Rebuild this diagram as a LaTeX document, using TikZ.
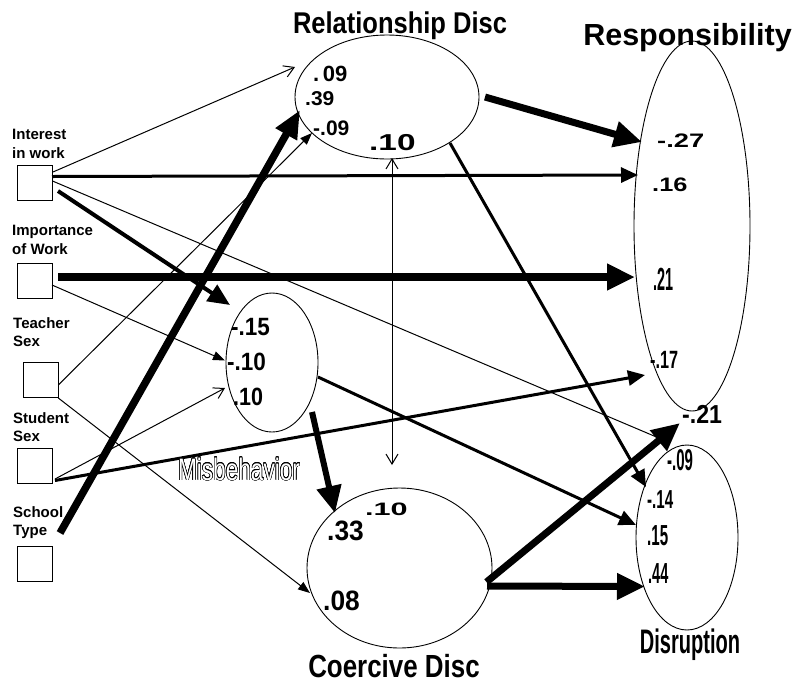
\documentclass[tikz,border=0pt]{standalone}
\usepackage{fontspec}
\setmainfont{Liberation Sans}
\usepackage{graphicx}
\usepackage{contour}
\contourlength{0.7pt}
\usetikzlibrary{arrows.meta,shapes.geometric,calc}
\newcommand{\lbl}[3]{\fontsize{#1}{#1}\selectfont\scalebox{#2}[1]{#3}}
\begin{document}
\begin{tikzpicture}[x=1pt,y=-1pt,
  box/.style={draw, line width=1pt, minimum size=35pt, inner sep=0pt, outer sep=0pt},
  ell/.style={draw, ellipse, line width=0.9pt, inner sep=0pt, outer sep=0pt},
  lab/.style={anchor=north west, inner sep=0pt, align=left, font=\fontsize{15}{18.5}\selectfont\bfseries},
  num/.style={anchor=base west, inner sep=0pt, font=\bfseries},
  ttl/.style={anchor=base, inner sep=0pt, font=\bfseries},
  thinln/.style={line width=1pt},
  medln/.style={line width=3pt},
  thkln/.style={line width=4pt},
  vthk/.style={line width=7.5pt},
  openhd/.style={-{Straight Barb[length=10pt,width=12pt]}},
  dblhd/.style={{Straight Barb[length=10pt,width=12pt]}-{Straight Barb[length=10pt,width=12pt]}},
  smallhd/.style={-{Triangle[length=12pt,width=9pt]}},
  medhd/.style={-{Triangle[length=17pt,width=15pt]}},
  midhd/.style={-{Triangle[length=22pt,width=19pt]}},
  bighd/.style={-{Triangle[length=28pt,width=25pt]}}
]
\fill[white] (0,0) rectangle (797,686);
\useasboundingbox (0,0) rectangle (797,686);

% boxes
\node[box] (bInt) at (34.5,183) {};
\node[box] (bImp) at (34.5,281) {};
\node[box] (bTea) at (40.8,380) {};
\node[box] (bStu) at (35,465.5) {};
\node[box] (bSch) at (34.5,564) {};

% box labels
\node[lab] (lInt) at (12,129) {Interest\\in work};
\node[lab] (lImp) at (12,225) {Importance\\of Work};
\node[lab] (lTea) at (13,317) {Teacher\\Sex};
\node[lab] (lStu) at (13,412) {Student\\Sex};
\node[lab] (lSch) at (13,506) {School\\Type};

% ellipses
\node[ell, minimum width=184pt, minimum height=124pt] (eRel) at (387,97) {};
\node[ell, minimum width=116pt, minimum height=370pt] (eResp) at (692,226) {};
\node[ell, minimum width=102pt, minimum height=185pt] (eDis) at (687,537.5) {};
\node[ell, minimum width=92pt, minimum height=139pt] (eMis) at (272,362.5) {};
\node[ell, minimum width=185pt, minimum height=160pt] (eCoe) at (399.5,568) {};

% thin connectors
\draw[thinln, openhd] ($(bInt)+(18.5,-11)$) -- ($(eRel)+(-92,-30)$);
\draw[thinln] ($(bInt)+(18,-2)$) -- ($(eDis)+(-27,-99)$);
\draw[thinln, smallhd] ($(bImp)+(17.5,4)$) -- ($(eMis)+(-47,-2)$);
\draw[thinln, smallhd] ($(bTea)+(17.5,5)$) -- ($(eRel)+(-75,36)$);
\draw[thinln, smallhd] ($(bTea)+(17.5,18)$) -- ($(eCoe)+(-89.5,25)$);
\draw[thinln, openhd] ($(bStu)+(20,13.5)$) -- ($(eMis)+(-47,25.5)$);
\draw[thinln, dblhd] ($(eRel)+(5,61)$) -- ($(eCoe)+(-7.5,-103)$);

% medium connectors
\draw[medln, medhd] ($(bInt)+(17.5,-6.5)$) -- ($(eResp)+(-54,-51)$);
\draw[medln, medhd] ($(bStu)+(20,15)$) -- ($(eResp)+(-47,149)$);
\draw[medln, medhd] ($(eRel)+(63,46)$) -- ($(eDis)+(-41,-50.5)$);
\draw[medln, medhd] ($(eMis)+(46,14.5)$) -- ($(eDis)+(-51,-12.5)$);

% thick connectors
\draw[thkln, midhd] ($(bInt)+(23.5,8)$) -- ($(eMis)+(-42,-57.5)$);
\draw[vthk, bighd] ($(bImp)+(23.5,-4)$) -- ($(eResp)+(-57,51)$);
\draw[vthk, -{Triangle[length=28pt,width=23pt]}] ($(bSch)+(25.5,-31)$) -- ($(eRel)+(-87,13)$);
\draw[line width=7pt, bighd] ($(eRel)+(98,0)$) -- ($(eResp)+(-50,-84)$);
\draw[line width=6pt, -{Triangle[length=27pt,width=24pt]}] ($(eMis)+(40,49.5)$) -- ($(eCoe)+(-64.5,-55)$);
\draw[line width=7pt, bighd] ($(eCoe)+(87,14)$) -- ($(eDis)+(-7,-114.5)$);
\draw[line width=7pt, bighd] ($(eCoe)+(87.5,18)$) -- ($(eDis)+(-42,49)$);

% titles
\node[ttl] (tRel) at (400,33) {\lbl{30}{0.85}{Relationship Disc}};
\node[ttl] (tResp) at (687.5,45) {\lbl{30.5}{1}{Responsibility}};
\node[ttl] (tCoe) at (394,677) {\lbl{32}{0.81}{Coercive Disc}};
\node[ttl] (tDis) at (690,653) {\lbl{34}{0.59}{Disruption}};
\node[anchor=base, inner sep=0pt] (tMis) at (239,480) {\lbl{31}{0.73}{\contour{black}{\textcolor{white}{Misbehavior}}}};

% numbers: Relationship
\node[num] (n1) at (313,81.5) {\lbl{22}{1}{.\,09}};
\node[num] (n2) at (305,105) {\lbl{20}{1.05}{.39}};
\node[num] (n3) at (313,135) {\lbl{21}{1}{-.09}};
\node[num] (n4) at (369,150) {\lbl{23}{1.45}{.10}};
% numbers: Responsibility
\node[num] (n5) at (657,147) {\lbl{19.5}{1.4}{-.27}};
\node[num] (n6) at (652,191) {\lbl{19.5}{1.3}{.16}};
\node[num] (n7) at (653,290) {\lbl{32}{0.45}{.21}};
\node[num] (n8) at (650,368) {\lbl{25}{0.65}{-.17}};
\node[num] (n9) at (682,423) {\lbl{26}{0.89}{-.21}};
% numbers: Disruption
\node[num] (n10) at (667,470) {\lbl{30}{0.5}{-.09}};
\node[num] (n11) at (647,508) {\lbl{26}{0.58}{-.14}};
\node[num] (n12) at (647,545) {\lbl{29}{0.52}{.15}};
\node[num] (n13) at (648,583) {\lbl{29}{0.5}{.44}};
% numbers: Misbehavior
\node[num] (n14) at (231,335) {\lbl{25}{0.9}{-.15}};
\node[num] (n15) at (227,370) {\lbl{25}{0.9}{-.10}};
\node[num] (n16) at (233,405) {\lbl{25}{0.86}{.10}};
% numbers: Coercive
\node[num] (n17) at (327,540) {\lbl{28}{0.94}{.33}};
\node[num] (n18) at (365,515) {\lbl{18}{1.7}{.10}};
\node[num] (n19) at (323,610) {\lbl{28}{0.94}{.08}};
\end{tikzpicture}
\end{document}
